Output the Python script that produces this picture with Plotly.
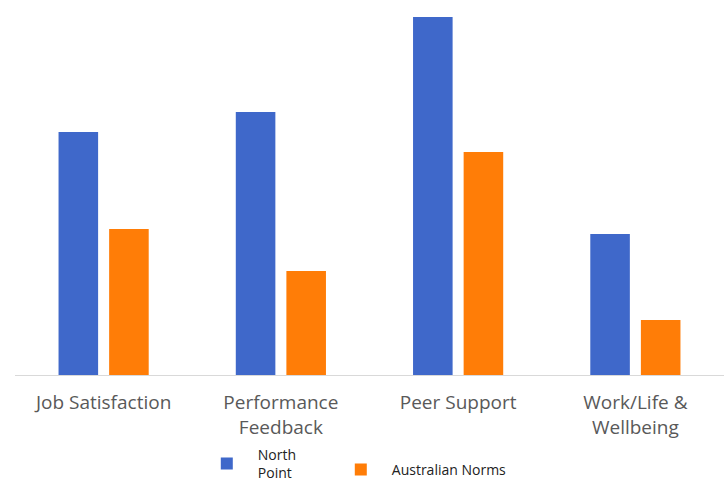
import plotly.graph_objects as go

categories = ["Job Satisfaction", "Performance<br>Feedback", "Peer Support", "Work/Life &<br>Wellbeing"]
north_point = [243, 263, 358, 141]
australian_norms = [146, 104, 223, 55]

fig = go.Figure()
fig.add_trace(go.Bar(x=categories, y=north_point, name="North<br>Point",
                     marker=dict(color="#3F68CA", line=dict(width=0)),
                     legend="legend"))
fig.add_trace(go.Bar(x=categories, y=australian_norms, name="Australian Norms",
                     marker=dict(color="#FF7D07", line=dict(width=0)),
                     legend="legend2"))

legend_style = dict(orientation="h", xanchor="left", yanchor="middle",
                    itemwidth=52, valign="middle", bgcolor="rgba(0,0,0,0)",
                    font=dict(family="'Open Sans', sans-serif", size=14, color="#222222"))

fig.update_layout(
    width=726, height=481,
    margin=dict(l=15, r=2, t=10, b=106, autoexpand=False),
    paper_bgcolor="white", plot_bgcolor="white",
    barmode="group", bargap=0.429, bargroupgap=0.218,
    font=dict(family="'Open Sans', sans-serif"),
    xaxis=dict(showline=True, linecolor="#D9D9D9", linewidth=1, ticks="",
               ticklabelstandoff=10,
               tickfont=dict(size=19, color="#595959")),
    yaxis=dict(range=[0, 365], visible=False, showgrid=False),
    showlegend=True,
    legend=dict(x=0.255, y=-0.243, **legend_style),
    legend2=dict(x=0.444, y=-0.26, **legend_style),
)

fig.write_html("out.html")
